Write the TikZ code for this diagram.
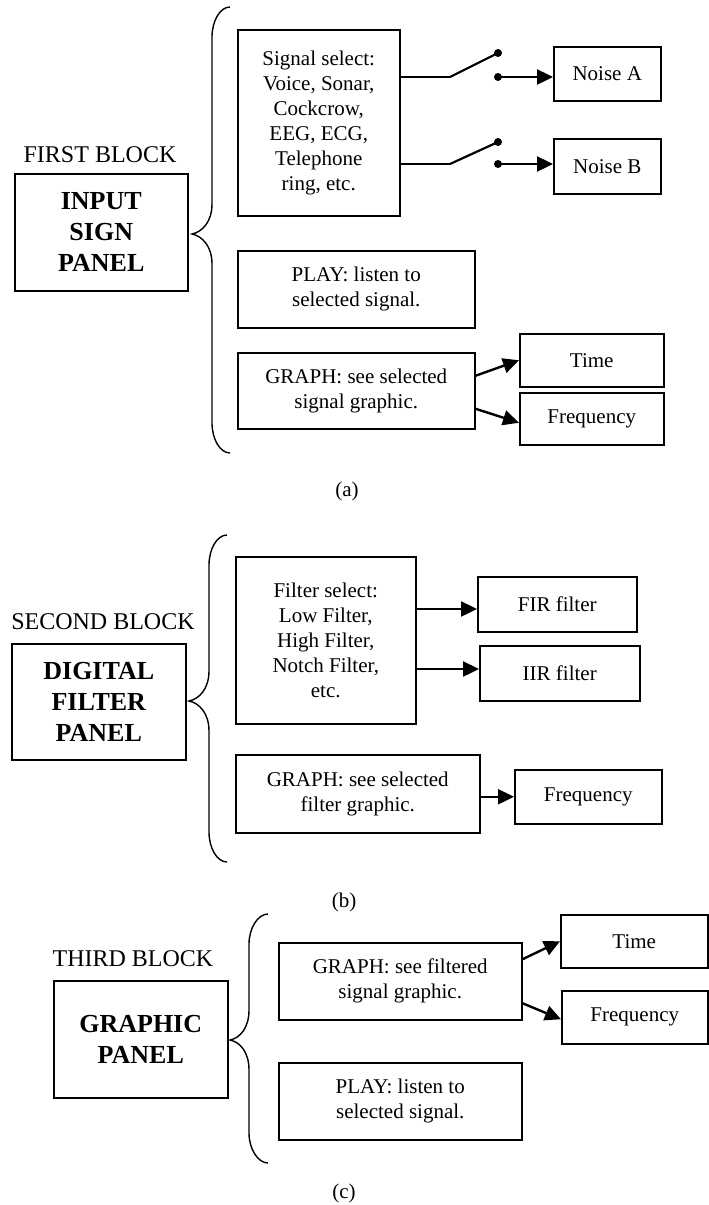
\documentclass[tikz,border=0pt]{standalone}
\usepackage{fontspec}
\setmainfont{Liberation Serif}
\usetikzlibrary{arrows.meta,calc}
\tikzset{
 box/.style={draw, line width=1.5pt, align=center, inner sep=2pt, anchor=north west, font=\fontsize{21}{25}\selectfont},
 panel/.style={draw, line width=1.5pt, align=center, inner sep=2pt, anchor=north west, font=\bfseries\fontsize{26}{31}\selectfont},
 blocktitle/.style={font=\fontsize{24}{28}\selectfont},
 captext/.style={font=\fontsize{21}{25}\selectfont},
 arr/.style={line width=2.4pt, -{Triangle[length=16pt,width=15pt]}},
 wire/.style={line width=1.3pt},
 blade/.style={line width=2.2pt},
 dot/.style={circle, fill, inner sep=0pt, minimum size=8pt},
 brc/.style={line width=1.4pt},
}
\newcommand{\cbrace}[6]{\draw[brc] (#1,#4) .. controls ({#1-10},#4) and (#2,{#4+14}) .. (#2,{#4+30}) -- (#2,{#5-30}) .. controls (#2,{#5-12}) and ({#3+10},{#5-2}) .. (#3,#5) .. controls ({#3+10},{#5+2}) and (#2,{#5+12}) .. (#2,{#5+30}) -- (#2,{#6-30}) .. controls (#2,{#6-14}) and ({#1-10},#6) .. (#1,#6);}
\begin{document}
\begin{tikzpicture}[x=1pt,y=-1pt]
\useasboundingbox (0,0) rectangle (709,1205);
% ---------- (a) ----------
\node[blocktitle] (t1) at (100,155) {FIRST BLOCK};
\node[panel, minimum width=173pt, minimum height=117pt] (input) at (14,173) {INPUT\\SIGN\\PANEL};
\cbrace{230}{212}{192}{7}{234}{453}
\node[box, minimum width=162pt, minimum height=186pt] (sig) at (237,29) {Signal select:\\Voice, Sonar,\\Cockcrow,\\EEG, ECG,\\Telephone\\ring, etc.};
\node[box, minimum width=107pt, minimum height=54pt] (noiseA) at (553,46) {Noise A};
\node[box, minimum width=107pt, minimum height=55pt] (noiseB) at (553,138) {Noise B};
\coordinate (k1) at (450,77);
\node[dot] (d1a) at (498,53) {};
\node[dot] (d1b) at (498,77) {};
\draw[wire] (sig.east |- k1) -- (k1);
\draw[blade] (k1) -- (d1a.center);
\draw[arr] (d1b.center) -- (noiseA.west |- d1b);
\coordinate (k2) at (450,164);
\node[dot] (d2a) at (498,142) {};
\node[dot] (d2b) at (498,164) {};
\draw[wire] (sig.east |- k2) -- (k2);
\draw[blade] (k2) -- (d2a.center);
\draw[arr] (d2b.center) -- (noiseB.west |- d2b);
\node[box, minimum width=237pt, minimum height=77pt] (play1) at (237,250) {PLAY: listen to\\selected signal.};
\node[box, minimum width=237pt, minimum height=76pt] (graph1) at (237,352) {GRAPH: see selected\\signal graphic.};
\node[box, minimum width=144pt, minimum height=53pt] (time1) at (519,333) {Time};
\node[box, minimum width=144pt, minimum height=52pt] (freq1) at (519,392) {Frequency};
\draw[arr] ([yshift=15pt]graph1.east) -- (time1.west);
\draw[arr] ([yshift=-18pt]graph1.east) -- ([yshift=-4pt]freq1.west);
\node[captext] (ca) at (347,491) {(a)};
% ---------- (b) ----------
\node[blocktitle] (t2) at (103,622) {SECOND BLOCK};
\node[panel, minimum width=174pt, minimum height=116pt] (digital) at (11,643) {DIGITAL\\FILTER\\PANEL};
\cbrace{227}{209}{189}{535}{701}{862}
\node[box, minimum width=180pt, minimum height=167pt] (filt) at (235,556) {Filter select:\\Low Filter,\\High Filter,\\Notch Filter,\\etc.};
\node[box, minimum width=159pt, minimum height=55pt] (fir) at (477,576) {FIR filter};
\node[box, minimum width=160pt, minimum height=55pt] (iir) at (479,645) {IIR filter};
\coordinate (a1) at (0,609);
\coordinate (a2) at (0,669);
\draw[arr] (filt.east |- a1) -- (fir.west |- a1);
\draw[arr] (filt.east |- a2) -- (iir.west |- a2);
\node[box, minimum width=244pt, minimum height=78pt] (gf) at (235,754) {GRAPH: see selected\\filter graphic.};
\node[box, minimum width=147pt, minimum height=54pt] (freq2) at (514,769) {Frequency};
\draw[arr] (gf.east |- freq2.west) -- (freq2.west);
\node[captext] (cb) at (344,902) {(b)};
% ---------- (c) ----------
\node[blocktitle] (t3) at (133,959) {THIRD BLOCK};
\node[panel, minimum width=174pt, minimum height=117pt] (graphic) at (53,980) {GRAPHIC\\PANEL};
\cbrace{268}{249}{230}{914}{1040}{1163}
\node[box, minimum width=243pt, minimum height=77pt] (gs) at (278,942) {GRAPH: see filtered\\signal graphic.};
\node[box, minimum width=147pt, minimum height=53pt] (time3) at (560,914) {Time};
\node[box, minimum width=146pt, minimum height=53pt] (freq3) at (561,990) {Frequency};
\draw[arr] ([yshift=22pt]gs.east) -- (time3.west);
\draw[arr] ([yshift=-22pt]gs.east) -- ([yshift=-2pt]freq3.west);
\node[box, minimum width=243pt, minimum height=77pt] (play3) at (278,1062) {PLAY: listen to\\selected signal.};
\node[captext] (cc) at (344,1193) {(c)};
\end{tikzpicture}
\end{document}
